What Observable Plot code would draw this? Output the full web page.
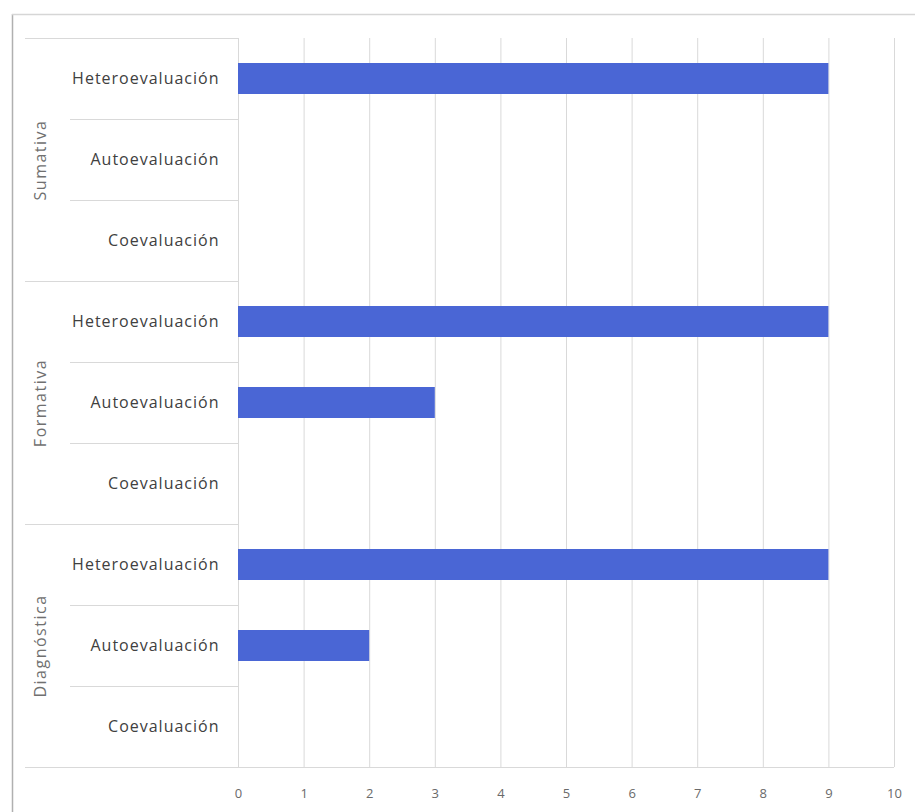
<!DOCTYPE html>
<html>
<head>
<meta charset="utf-8">
<script src="https://cdn.jsdelivr.net/npm/d3@7"></script>
<script src="https://cdn.jsdelivr.net/npm/@observablehq/plot@0.6"></script>
<style>
  html, body { margin: 0; padding: 0; background: #ffffff; }
  #chart { position: relative; width: 915px; height: 812px; }
  #chart svg { display: block; }
</style>
</head>
<body>
<div id="chart"></div>
<script>
// ---- data ----
const groups = ["Sumativa", "Formativa", "Diagnóstica"];
const subcategories = ["Heteroevaluación", "Autoevaluación", "Coevaluación"];
const sumativaValues = [9, 0, 0];
const formativaValues = [9, 3, 0];
const diagnosticaValues = [9, 2, 0];
const xTicks = [0, 1, 2, 3, 4, 5, 6, 7, 8, 9, 10];

// ---- build table ----
const valuesByGroup = [sumativaValues, formativaValues, diagnosticaValues];
const rows = groups.flatMap((g, i) =>
  subcategories.map((s, j) => ({ group: g, sub: s, key: g + "|" + s, value: valuesByGroup[i][j] }))
);
const keys = rows.map(d => d.key);
const groupLabels = groups.map(g => ({ group: g, key: g + "|" + subcategories[1] }));

const W = 915, H = 812;
const mL = 238, mR = 21, mT = 38, mB = 45;
const gridColor = "#d9d9d9";

const plot = Plot.plot({
  width: W,
  height: H,
  marginLeft: mL,
  marginRight: mR,
  marginTop: mT,
  marginBottom: mB,
  style: { fontFamily: "'Open Sans', sans-serif", color: "#404040", background: "transparent" },
  x: { domain: [0, 10], ticks: xTicks },
  y: { domain: keys, padding: 0 },
  marks: [
    Plot.ruleX(xTicks, { stroke: gridColor, strokeWidth: 1 }),
    Plot.barX(rows, { x: "value", y: "key", fill: "#4a66d5", insetTop: 25, insetBottom: 25 }),
    Plot.axisX({ ticks: xTicks, tickSize: 0, tickPadding: 21, fontSize: 13, fill: "#6a6a6a", label: null }),
    Plot.axisY({ tickSize: 0, tickPadding: 19, fontSize: 16, fill: "#404040", label: null,
                 tickFormat: k => k.split("|")[1] }),
    Plot.text(groupLabels, { x: 0, y: "key", text: "group", rotate: -90, dx: -198,
                             fontSize: 16, fill: "#707070", textAnchor: "middle" })
  ]
});

document.getElementById("chart").appendChild(plot);

// letter spacing to match the wide reference lettering
d3.select(plot).selectAll("g[aria-label='y-axis tick label'] text").attr("letter-spacing", "1px");
d3.select(plot).selectAll("g[aria-label='text'] text").attr("letter-spacing", "1.5px");

// ---- category separators & border, drawn from the plot's own scales ----
const ys = plot.scale("y");
const xs = plot.scale("x");
const svg = d3.select(plot);
const x0 = xs.apply(0);
const x10 = xs.apply(10);
const bw = ys.bandwidth !== undefined ? ys.bandwidth : (ys.range[1] - ys.range[0]) / keys.length;
const edges = keys.map(k => ys.apply(k));
edges.push(edges[edges.length - 1] + bw);

const g = svg.append("g").attr("stroke", gridColor).attr("stroke-width", 1);
edges.forEach((y, i) => {
  const isGroup = i % subcategories.length === 0;
  const xStart = isGroup ? 25 : 70;
  const xEnd = i === edges.length - 1 ? x10 : x0;
  g.append("line").attr("x1", xStart).attr("x2", xEnd).attr("y1", y + 0.5).attr("y2", y + 0.5);
});
// outer chart border
svg.append("line").attr("x1", 12.5).attr("x2", 12.5).attr("y1", 14).attr("y2", H)
  .attr("stroke", "#b0b0b0").attr("stroke-width", 1.5);
svg.append("line").attr("x1", 12).attr("x2", W).attr("y1", 14.5).attr("y2", 14.5)
  .attr("stroke", "#d6d6d6").attr("stroke-width", 1.5);
</script>
</body>
</html>
